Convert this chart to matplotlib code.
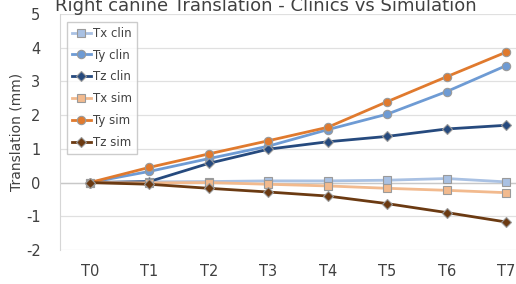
import matplotlib
matplotlib.use("Agg")
import matplotlib.pyplot as plt

plt.rcParams["axes.unicode_minus"] = False

categories = ["T0", "T1", "T2", "T3", "T4", "T5", "T6", "T7"]
tx_clin = [0, 0.02, 0.03, 0.05, 0.05, 0.07, 0.12, 0.02]
ty_clin = [0, 0.33, 0.71, 1.08, 1.57, 2.03, 2.70, 3.47]
tz_clin = [0, 0.03, 0.57, 0.99, 1.21, 1.37, 1.59, 1.70]
tx_sim = [0, -0.01, 0.0, -0.05, -0.10, -0.17, -0.23, -0.30]
ty_sim = [0, 0.45, 0.85, 1.24, 1.64, 2.40, 3.14, 3.87]
tz_sim = [0, -0.05, -0.17, -0.28, -0.40, -0.625, -0.89, -1.17]
yticks = [-2, -1, 0, 1, 2, 3, 4, 5]

series = [
    ("Tx clin", tx_clin, "#A9C1E3", "s"),
    ("Ty clin", ty_clin, "#6E9BD4", "o"),
    ("Tz clin", tz_clin, "#264A7E", "D"),
    ("Tx sim", tx_sim, "#F2BA8E", "s"),
    ("Ty sim", ty_sim, "#E07A2E", "o"),
    ("Tz sim", tz_sim, "#6B3A12", "D"),
]

fig = plt.figure(figsize=(5.16, 2.84), dpi=100)
ax = fig.add_axes([60/516, 1-250/284, (536-60)/516, (250-14)/284])
x = list(range(len(categories)))
for name, vals, col, mk in series:
    ax.plot(x, vals, color=col, lw=2.0, marker=mk, markersize=6 if mk != "D" else 5,
            markerfacecolor=col, markeredgecolor="#9a9a9a", markeredgewidth=0.8,
            label=name, zorder=3)

ax.set_xlim(-0.5, len(categories) - 0.5)
ax.set_ylim(-2, 5)
ax.set_yticks(yticks)
ax.set_xticks(x)
ax.set_xticklabels(categories)
ax.grid(axis="y", color="#e0e0e0", lw=0.9)
ax.axhline(0, color="#c8c8c8", lw=1.0, zorder=1)
for s in ["top", "right", "bottom"]:
    ax.spines[s].set_visible(False)
ax.spines["left"].set_color("#d6d6d6")
ax.tick_params(axis="both", length=0, labelsize=10.5, colors="#404040")
ax.tick_params(axis="y", pad=14)
ax.tick_params(axis="x", pad=10)
ax.set_ylabel("Translation (mm)", fontsize=10, color="#404040", labelpad=2)
ax.set_axisbelow(True)

leg = ax.legend(loc="upper left", bbox_to_anchor=(7/476, 1-8/236), fontsize=8.5,
                frameon=True, fancybox=False, edgecolor="#c0c0c0", handlelength=1.6,
                handletextpad=0.2, borderpad=0.4, labelspacing=0.75, borderaxespad=0)
for t in leg.get_texts():
    t.set_color("#404040")

fig.text(266/516, 1-6/284, "Right canine Translation - Clinics vs Simulation",
         ha="center", va="center", fontsize=13, color="#404040")

fig.savefig("out.png", dpi=100)
